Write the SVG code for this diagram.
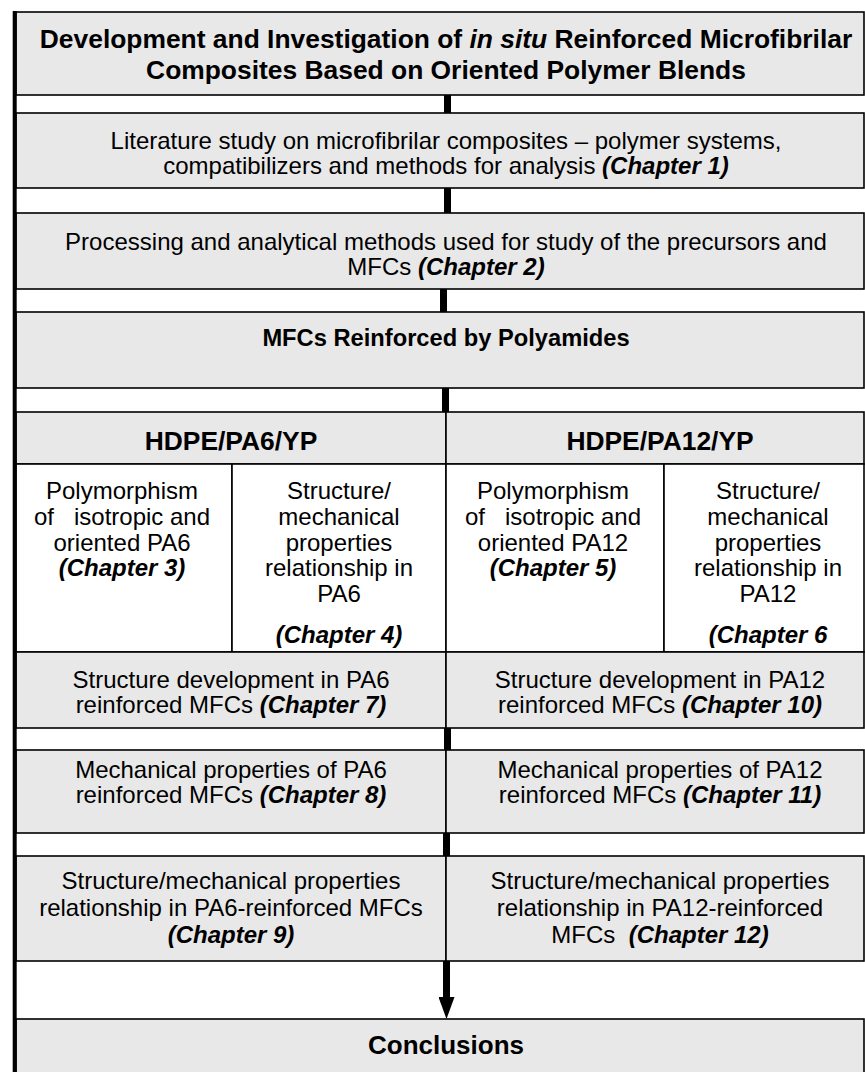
<svg xmlns="http://www.w3.org/2000/svg" width="865" height="1072" viewBox="0 0 865 1072">
<style>
  .box { fill: #e8e8e8; stroke: #000; stroke-width: 1.6; }
  .wbox { fill: #ffffff; stroke: #000; stroke-width: 1.6; }
  .conn { stroke: #000; stroke-width: 7; fill: none; }
  text { font-family: "Liberation Sans", Arial, Helvetica, sans-serif; fill: #000; text-anchor: middle; white-space: pre; }
  .t { font-size: 26.4px; font-weight: bold; }
  .h { font-size: 26.4px; font-weight: bold; }
  .m { font-size: 23.7px; font-weight: bold; }
  .c { font-size: 26px; font-weight: bold; }
  .b { font-size: 24px; }
  .ch { font-weight: bold; font-style: italic; }
  .it { font-style: italic; }
</style>
<defs>
  <marker id="ah" markerUnits="userSpaceOnUse" markerWidth="22" markerHeight="16" refX="0" refY="8" orient="auto">
    <path d="M0,0 L22,8 L0,16 z" fill="#000"/>
  </marker>
</defs>
<rect x="0" y="0" width="865" height="1072" fill="#ffffff"/>

<g id="title">
  <rect class="box" x="16" y="12" width="848" height="83"/>
  <text class="t" x="446" y="47.5">Development and Investigation of <tspan class="it">in situ</tspan> Reinforced Microfibrilar</text>
  <text class="t" x="446" y="79">Composites Based on Oriented Polymer Blends</text>
</g>

<g id="literature">
  <rect class="box" x="16" y="113" width="848" height="75"/>
  <text class="b" x="446" y="149">Literature study on microfibrilar composites – polymer systems,</text>
  <text class="b" x="446" y="174">compatibilizers and methods for analysis <tspan class="ch">(Chapter 1)</tspan></text>
</g>

<g id="processing">
  <rect class="box" x="16" y="213" width="848" height="76"/>
  <text class="b" x="446" y="249.5">Processing and analytical methods used for study of the precursors and</text>
  <text class="b" x="446" y="274.5">MFCs <tspan class="ch">(Chapter 2)</tspan></text>
</g>

<g id="mfc-polyamides">
  <rect class="box" x="16" y="312" width="848" height="76"/>
  <text class="m" x="446" y="346">MFCs Reinforced by Polyamides</text>
</g>

<g id="hdpe-pa6">
  <rect class="box" x="16" y="412" width="430" height="52"/>
  <text class="h" x="231" y="449.5">HDPE/PA6/YP</text>
</g>

<g id="hdpe-pa12">
  <rect class="box" x="446" y="412" width="418" height="52"/>
  <text class="h" x="660" y="449.5">HDPE/PA12/YP</text>
</g>

<g id="ch3">
  <rect class="wbox" x="16" y="464" width="216" height="188"/>
  <text class="b" x="122" y="499">Polymorphism</text>
  <text class="b" x="122" y="525">of   isotropic and</text>
  <text class="b" x="122" y="550.5">oriented PA6</text>
  <text class="b ch" x="122" y="576">(Chapter 3)</text>
</g>

<g id="ch4">
  <rect class="wbox" x="232" y="464" width="214" height="188"/>
  <text class="b" x="339" y="499">Structure/</text>
  <text class="b" x="339" y="525">mechanical</text>
  <text class="b" x="339" y="550.5">properties</text>
  <text class="b" x="339" y="576">relationship in</text>
  <text class="b" x="339" y="601.5">PA6</text>
  <text class="b ch" x="339" y="643">(Chapter 4)</text>
</g>

<g id="ch5">
  <rect class="wbox" x="446" y="464" width="218" height="188"/>
  <text class="b" x="553" y="499">Polymorphism</text>
  <text class="b" x="553" y="525">of   isotropic and</text>
  <text class="b" x="553" y="550.5">oriented PA12</text>
  <text class="b ch" x="553" y="576">(Chapter 5)</text>
</g>

<g id="ch6">
  <rect class="wbox" x="664" y="464" width="200" height="188"/>
  <text class="b" x="768" y="499">Structure/</text>
  <text class="b" x="768" y="525">mechanical</text>
  <text class="b" x="768" y="550.5">properties</text>
  <text class="b" x="768" y="576">relationship in</text>
  <text class="b" x="768" y="601.5">PA12</text>
  <text class="b ch" x="768" y="643">(Chapter 6</text>
</g>

<g id="ch7">
  <rect class="box" x="16" y="652" width="430" height="76"/>
  <text class="b" x="231" y="688">Structure development in PA6</text>
  <text class="b" x="231" y="713">reinforced MFCs <tspan class="ch">(Chapter 7)</tspan></text>
</g>

<g id="ch10">
  <rect class="box" x="446" y="652" width="418" height="76"/>
  <text class="b" x="660" y="688">Structure development in PA12</text>
  <text class="b" x="660" y="713">reinforced MFCs <tspan class="ch">(Chapter 10)</tspan></text>
</g>

<g id="ch8">
  <rect class="box" x="16" y="750" width="430" height="83"/>
  <text class="b" x="231" y="778">Mechanical properties of PA6</text>
  <text class="b" x="231" y="803">reinforced MFCs <tspan class="ch">(Chapter 8)</tspan></text>
</g>

<g id="ch11">
  <rect class="box" x="446" y="750" width="418" height="83"/>
  <text class="b" x="660" y="778">Mechanical properties of PA12</text>
  <text class="b" x="660" y="803">reinforced MFCs <tspan class="ch">(Chapter 11)</tspan></text>
</g>

<g id="ch9">
  <rect class="box" x="16" y="856" width="430" height="105"/>
  <text class="b" x="231" y="889">Structure/mechanical properties</text>
  <text class="b" x="231" y="916">relationship in PA6-reinforced MFCs</text>
  <text class="b ch" x="231" y="943">(Chapter 9)</text>
</g>

<g id="ch12">
  <rect class="box" x="446" y="856" width="418" height="105"/>
  <text class="b" x="660" y="889">Structure/mechanical properties</text>
  <text class="b" x="660" y="916">relationship in PA12-reinforced</text>
  <text class="b" x="660" y="943">MFCs  <tspan class="ch">(Chapter 12)</tspan></text>
</g>

<g id="conclusions">
  <rect class="box" x="16" y="1019" width="848" height="60"/>
  <text class="c" x="446" y="1054">Conclusions</text>
</g>

<g id="connectors">
  <line class="conn" x1="447.5" y1="95" x2="447.5" y2="113"/>
  <line class="conn" x1="447.5" y1="188" x2="447.5" y2="213"/>
  <line class="conn" x1="443.5" y1="289" x2="443.5" y2="312"/>
  <line class="conn" x1="445.5" y1="388" x2="445.5" y2="412"/>
  <line class="conn" x1="447.5" y1="728" x2="447.5" y2="750"/>
  <line class="conn" x1="446.5" y1="833" x2="446.5" y2="856"/>
  <line class="conn" x1="446.5" y1="961" x2="446.5" y2="997" marker-end="url(#ah)"/>
</g>

<g id="frame">
  <rect x="12.7" y="11" width="4" height="1061" fill="#000"/>
</g>
</svg>
